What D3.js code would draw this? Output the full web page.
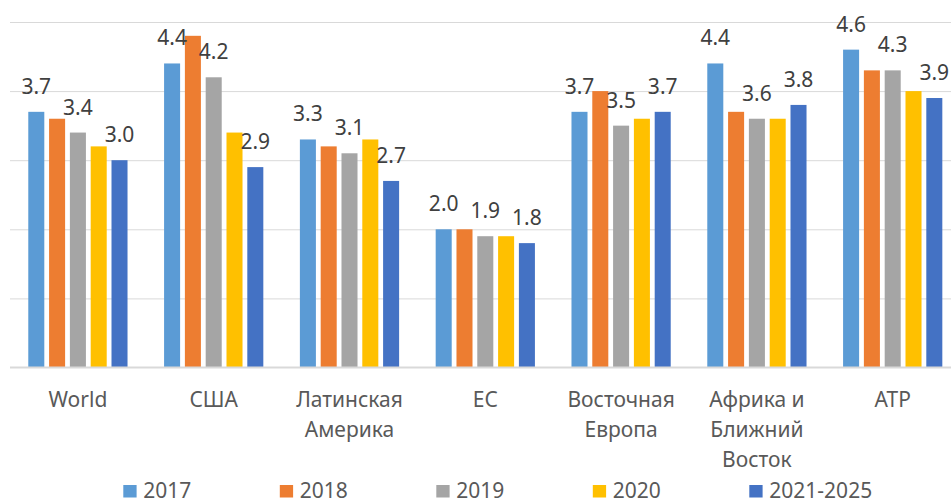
<!DOCTYPE html>
<html>
<head>
<meta charset="utf-8">
<script src="https://cdn.jsdelivr.net/npm/d3@7"></script>
<style>
  body { margin:0; background:#fff; }
  text { font-family:"Noto Sans", sans-serif; }
  .grid line { stroke:#d9d9d9; stroke-width:1; }
  .grid .domain { display:none; }
  .xaxis .domain { stroke:#d9d9d9; stroke-width:2; }
  .xaxis text { fill:#595959; font-size:21px; }
  .val { fill:#404040; font-size:21px; }
  .legend text { fill:#595959; font-size:21px; }
</style>
</head>
<body>
<script>
// categories and series
var regions = ["World", "США", "Латинская Америка", "ЕС", "Восточная Европа", "Африка и Ближний Восток", "АТР"];
var years = ["2017", "2018", "2019", "2020", "2021-2025"];
var colors = ["#5b9bd5", "#ed7d31", "#a5a5a5", "#ffc000", "#4472c4"];

var v2017 = [3.7, 4.4, 3.3, 2.0, 3.7, 4.4, 4.6];
var v2018 = [3.6, 4.8, 3.2, 2.0, 4.0, 3.7, 4.3];
var v2019 = [3.4, 4.2, 3.1, 1.9, 3.5, 3.6, 4.3];
var v2020 = [3.2, 3.4, 3.3, 1.9, 3.6, 3.6, 4.0];
var v2021 = [3.0, 2.9, 2.7, 1.8, 3.7, 3.8, 3.9];
var labelled = ["2017", "2019", "2021-2025"];   // only these get value labels

var yTicks = [0, 1, 2, 3, 4, 5];

var series = [v2017, v2018, v2019, v2020, v2021];

var width = 951, height = 503;
var svg = d3.select("body").append("svg")
  .attr("width", width)
  .attr("height", height);

var x0 = d3.scaleBand()
  .domain(regions)
  .range([10, 960.6])
  .paddingInner(0.234)
  .paddingOuter(0.117);

var x1 = d3.scaleBand()
  .domain(years)
  .range([0, x0.bandwidth()])
  .paddingInner(0.23)
  .paddingOuter(0.115);

var y = d3.scaleLinear()
  .domain([0, 5])
  .range([367.5, 22]);

// gridlines
svg.append("g")
  .attr("class", "grid")
  .attr("transform", "translate(10,0)")
  .call(d3.axisLeft(y).tickValues(yTicks.slice(1)).tickSize(-(width - 10)).tickFormat(""));

var groups = svg.selectAll(".grp").data(regions).enter()
  .append("g")
  .attr("class", "grp")
  .attr("transform", function(d){ return "translate(" + x0(d) + ",0)"; });

groups.selectAll("rect")
  .data(function(d, i){
    return years.map(function(yr, j){ return {year: yr, value: series[j][i], color: colors[j]}; });
  })
  .enter().append("rect")
  .attr("x", function(d){ return x1(d.year); })
  .attr("width", x1.bandwidth())
  .attr("y", function(d){ return y(d.value); })
  .attr("height", function(d){ return y(0) - y(d.value); })
  .attr("fill", function(d){ return d.color; });

groups.selectAll(".val")
  .data(function(d, i){
    return years.map(function(yr, j){ return {year: yr, value: series[j][i]}; })
      .filter(function(d){ return labelled.indexOf(d.year) >= 0; });
  })
  .enter().append("text")
  .attr("class", "val")
  .attr("text-anchor", "middle")
  .attr("x", function(d){ return x1(d.year) + x1.bandwidth() / 2; })
  .attr("y", function(d){ return y(d.value) - 18; })
  .text(function(d){ return d.value.toFixed(1); });

// x axis
var xa = svg.append("g")
  .attr("class", "xaxis")
  .attr("transform", "translate(0," + y(0) + ")")
  .call(d3.axisBottom(x0).tickSize(0).tickPadding(0));

xa.select(".domain").attr("d", "M10,0H" + width);

xa.selectAll(".tick text")
  .attr("y", 0)
  .attr("dy", null)
  .each(function(d){ wrap(d3.select(this), d, 125); });

function wrap(t, label, maxW){
  var words = label.split(" "), line = [], lines = [];
  t.text(null);
  var probe = t.append("tspan");
  words.forEach(function(w){
    line.push(w);
    probe.text(line.join(" "));
    if (probe.node().getComputedTextLength() > maxW && line.length > 1) {
      line.pop();
      lines.push(line.join(" "));
      line = [w];
    }
  });
  lines.push(line.join(" "));
  probe.remove();
  lines.forEach(function(l, i){
    t.append("tspan").attr("x", 0).attr("y", 39.5 + i * 30).text(l);
  });
}

// legend (sits at the very bottom edge, like the original)
var leg = svg.append("g").attr("class", "legend")
  .selectAll("g").data(years).enter()
  .append("g")
  .attr("transform", function(d, i){ return "translate(" + (123.3 + i * 156.5) + ",0)"; });

leg.append("rect")
  .attr("y", 485)
  .attr("width", 13.3)
  .attr("height", 12.5)
  .attr("fill", function(d, i){ return colors[i]; });

leg.append("text")
  .attr("x", 20)
  .attr("y", 497.5)
  .text(function(d){ return d; });
</script>
</body>
</html>
